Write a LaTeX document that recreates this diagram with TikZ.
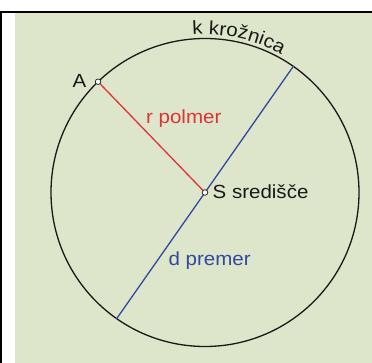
\documentclass[tikz,border=0pt]{standalone}
\usepackage{fontspec}
\setmainfont{Liberation Sans}[FakeStretch=1.08]
\usetikzlibrary{decorations.text}
\definecolor{bggreen}{RGB}{221,230,203}
\definecolor{radred}{RGB}{222,52,52}
\definecolor{diablue}{RGB}{50,72,160}
\definecolor{ringblack}{RGB}{25,25,25}
\tikzstyle{every node}=[font=\fontsize{19}{19}\selectfont]
\tikzstyle{every path}=[line width=1.3pt,line cap=round,line join=round]
\tikzstyle{dot}=[circle,draw=ringblack,fill=white,line width=0.7pt,inner sep=0pt,minimum size=5.5pt]
\begin{document}
\begin{tikzpicture}[x=1pt,y=1pt]
% circle with radius and diameter
	\newcommand\Rcirc{154} %radius of the circle
	\newcommand\Rtext{158} %radius of the arc that carries the circle's name
	\useasboundingbox (0,0) rectangle (372,363);
	\fill[bggreen] (15,0) rectangle (372,349.5);
	\draw[line width=2pt,line cap=butt] (0,351) -- (372,351) coordinate (TR); %% TR is the right end of the top rule
	\draw[line width=2pt,line cap=butt] (1,0) -- (1,351) coordinate (TL); %% TL is the top of the left rule
	\coordinate (S) at (205,170.5) ;
	\draw[ringblack] (S) circle[radius=\Rcirc];
	\path (S) ++(134:\Rcirc) coordinate (A); %% A is the end of the radius
	\path (S) ++(55:\Rcirc) coordinate (D1) (S) ++(235:\Rcirc) coordinate (D2); %% D1 and D2 are the ends of the diameter
	\draw[diablue] (D2) -- (D1);
	\draw[radred] (A) -- (S);
	\node[dot] (Adot) at (A) {};
	\node[dot] (Sdot) at (S) {};
	\node[anchor=base east,ringblack,inner sep=0pt] (Alab) at (87,275) {A};
	\node[anchor=base west,radred,inner sep=0pt] (rlab) at (145.5,239) {r polmer};
	\node[anchor=base west,ringblack,inner sep=0pt] (Slab) at (212,164) {S središče};
	\node[anchor=base west,diablue,inner sep=0pt] (dlab) at (168,97) {d premer};
	\path[decorate,decoration={text along path,text={|\fontsize{19}{19}\selectfont\color{ringblack}|k krožnica}}] (S) ++(94.5:\Rtext) arc[start angle=94.5,end angle=45,radius=\Rtext];
\end{tikzpicture}
\end{document}
